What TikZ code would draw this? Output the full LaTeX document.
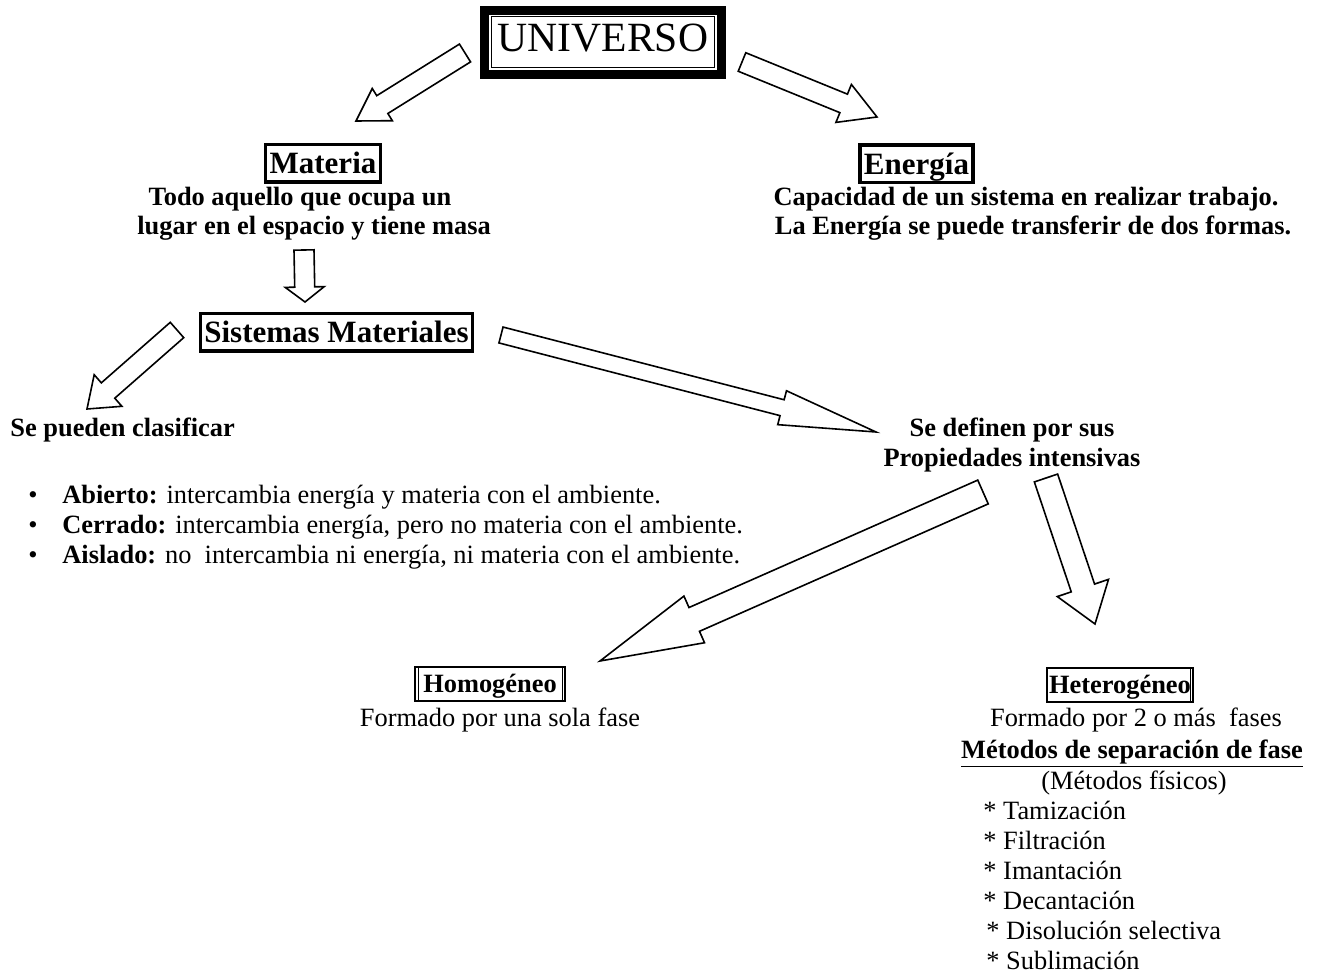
\documentclass[tikz,border=0pt]{standalone}
\usepackage{fontspec}
\setmainfont{Liberation Serif}
\usetikzlibrary{calc}

% hollow block arrow: tail, tip, half shaft, half head, head length
\newcommand{\hollowarrow}[5]{%
  \coordinate (neck) at ($(#2)!#5!(#1)$);
  \draw[blockarrow] ($(#1)!#3!90:(#2)$) -- ($(neck)!#3!90:(#2)$)
    -- ($(neck)!#4!90:(#2)$) -- (#2) -- ($(neck)!#4!-90:(#2)$)
    -- ($(neck)!#3!-90:(#2)$) -- ($(#1)!#3!-90:(#2)$) -- cycle;
}

\begin{document}
\begin{tikzpicture}[x=0.5pt, y=-0.5pt,
    plaintxt/.style={inner sep=0pt, font=\fontsize{13.2}{15}\selectfont, text height=9pt, text depth=3pt},
    boldtxt/.style={plaintxt, font=\fontsize{13.2}{15}\selectfont\bfseries},
    titlebox/.style={draw, line width=1.75pt, inner xsep=2pt, inner ysep=0pt, outer sep=0pt,
                     minimum height=18.75pt, text height=11pt, text depth=0.5pt,
                     font=\fontsize{15.5}{18}\selectfont\bfseries},
    subbox/.style={draw, line width=1pt, inner sep=0pt, outer sep=0pt, minimum height=17pt,
                   text height=9pt, text depth=0.5pt, font=\fontsize{13.2}{15}\selectfont\bfseries},
    blockarrow/.style={draw, line width=0.8pt, fill=white, line join=miter}]

\useasboundingbox (0,0) rectangle (1323,978);

% top
\node[draw, line width=0.5pt, outer sep=0pt, minimum width=108pt, minimum height=25.5pt,
      text height=13.8pt, text depth=5pt, font=\fontsize{20.8}{24}\selectfont] (universo) at (603,42.5) {UNIVERSO};
\draw[line width=4.5pt] ([shift={(-3.25pt,3.25pt)}]universo.north west) rectangle ([shift={(3.25pt,-3.25pt)}]universo.south east);

\node[titlebox] (materia) at (323,163.5) {Materia};
\node[boldtxt] (mat1) at (300,200) {Todo aquello que ocupa un};
\node[boldtxt] (mat2) at (314,229) {lugar en el espacio y tiene masa};

\node[titlebox] (energia) at (916.5,164) {Energía};
\node[boldtxt] (ene1) at (1026,200) {Capacidad de un sistema en realizar trabajo.};
\node[boldtxt] (ene2) at (1033,229) {La Energía se puede transferir de dos formas.};

\node[titlebox] (sistemas) at (336.5,332.5) {Sistemas Materiales};

% left branch
\node[boldtxt, anchor=west] (clasif) at (10,431) {Se pueden clasificar};
\node[plaintxt] (bul1) at (33,498) {\textbullet};
\node[plaintxt] (bul2) at (33,528) {\textbullet};
\node[plaintxt] (bul3) at (33,557) {\textbullet};
\node[plaintxt, anchor=west] (abierto) at (62,498) {\textbf{Abierto:} intercambia energía y materia con el ambiente.};
\node[plaintxt, anchor=west] (cerrado) at (62,528) {\textbf{Cerrado:} intercambia energía, pero no materia con el ambiente.};
\node[plaintxt, anchor=west] (aislado) at (62,557) {\textbf{Aislado:} no~ intercambia ni energía, ni materia con el ambiente.};

% right branch
\node[boldtxt] (def1) at (1012,431) {Se definen por sus};
\node[boldtxt] (def2) at (1012,461) {Propiedades intensivas};

\node[subbox, minimum width=75pt] (homo) at (490,684) {Homogéneo};
\draw[line width=0.4pt] ([shift={(1.5pt,-0.5pt)}]homo.north west) -- ([shift={(1.5pt,0.5pt)}]homo.south west);
\draw[line width=0.4pt] ([shift={(-1.5pt,-0.5pt)}]homo.north east) -- ([shift={(-1.5pt,0.5pt)}]homo.south east);
\node[plaintxt] (homotxt) at (500,720) {Formado por una sola fase};

\node[subbox, minimum width=73pt] (hetero) at (1120,684.5) {Heterogéneo};
\draw[line width=0.4pt] ([shift={(-1.5pt,-0.5pt)}]hetero.north east) -- ([shift={(-1.5pt,0.5pt)}]hetero.south east);
\node[plaintxt] (het1) at (1136,720) {Formado por 2 o más~ fases};
\node[boldtxt] (het2) at (1132,752) {\underline{Métodos de separación de fase}};
\node[plaintxt] (het3) at (1134,783) {(Métodos físicos)};
\node[plaintxt, anchor=west] (sep1) at (983,813) {* Tamización};
\node[plaintxt, anchor=west] (sep2) at (983,843) {* Filtración};
\node[plaintxt, anchor=west] (sep3) at (983,873) {* Imantación};
\node[plaintxt, anchor=west] (sep4) at (983,903) {* Decantación};
\node[plaintxt, anchor=west] (sep5) at (986,933) {* Disolución selectiva};
\node[plaintxt, anchor=west] (sep6) at (986,963) {* Sublimación};

% arrows
\coordinate (t1) at (465,53);   \coordinate (h1) at (356,121);
\coordinate (t2) at (742,62);   \coordinate (h2) at (877,117);
\coordinate (t3) at (304,250);  \coordinate (h3) at (305,302);
\coordinate (t4) at (177,330);  \coordinate (h4) at (87,409);
\coordinate (t5) at (501,335);  \coordinate (h5) at (876,432);
\coordinate (t6) at (983,492);  \coordinate (h6) at (600,661);
\coordinate (t7) at (1046,478); \coordinate (h7) at (1095,624);

\hollowarrow{t1}{h1}{5.25pt}{9.5pt}{15.5pt}
\hollowarrow{t2}{h2}{5pt}{10.25pt}{18pt}
\hollowarrow{t3}{h3}{5pt}{9.75pt}{7.5pt}
\hollowarrow{t4}{h4}{5.1pt}{10.5pt}{14pt}
\hollowarrow{t5}{h5}{4.1pt}{8.75pt}{48.5pt}
\hollowarrow{t6}{h6}{6.5pt}{12.75pt}{51.5pt}
\hollowarrow{t7}{h7}{6.15pt}{13.5pt}{19pt}
\end{tikzpicture}
\end{document}
